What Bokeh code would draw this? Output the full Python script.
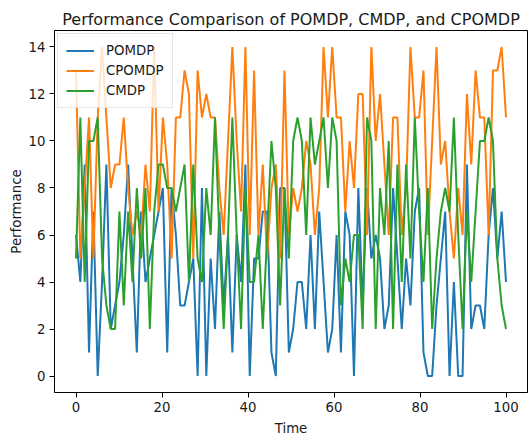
from bokeh.plotting import figure
from bokeh.models import Range1d, FixedTicker
from bokeh.embed import file_html
from bokeh.resources import INLINE
import numpy as np

# Time axis: 100 evenly spaced samples between 0 and 100
time = np.linspace(0, 100, 100)

pomdp = [6, 4, 9, 1, 7, 0, 4, 9, 2, 3,
         4, 6, 9, 5, 1, 7, 4, 5, 6, 7,
         8, 1, 8, 6, 3, 3, 4, 5, 0, 8,
         0, 5, 2, 7, 3, 6, 1, 6, 4, 9,
         0, 5, 5, 7, 7, 1, 0, 8, 8, 1,
         2, 4, 4, 2, 6, 2, 7, 4, 1, 2,
         6, 1, 7, 6, 0, 8, 3, 8, 5, 6,
         5, 2, 3, 8, 5, 2, 5, 3, 7, 8,
         1, 0, 0, 3, 5, 7, 0, 4, 0, 0,
         9, 2, 3, 3, 2, 6, 8, 5, 7, 4]

cpomdp = [13, 5, 8, 11, 5, 11, 14, 11, 8, 9,
          9, 11, 8, 6, 7, 6, 9, 7, 14, 7,
          11, 9, 5, 11, 11, 13, 12, 5, 13, 11,
          12, 11, 11, 8, 6, 10, 14, 10, 7, 14,
          6, 13, 6, 9, 5, 8, 9, 5, 13, 6,
          8, 7, 8, 10, 9, 6, 8, 14, 11, 14,
          11, 11, 7, 10, 8, 12, 12, 6, 14, 10,
          12, 9, 6, 11, 11, 6, 8, 14, 11, 11,
          13, 6, 10, 14, 9, 10, 7, 5, 8, 6,
          12, 9, 13, 11, 11, 6, 13, 13, 14, 11]

cmdp = [5, 11, 4, 10, 10, 11, 5, 3, 2, 2,
        7, 3, 7, 4, 8, 5, 8, 2, 7, 9,
        9, 8, 8, 7, 8, 9, 4, 9, 5, 4,
        8, 6, 11, 6, 2, 6, 11, 6, 2, 8,
        4, 4, 6, 2, 6, 10, 8, 3, 8, 5,
        10, 11, 10, 6, 11, 9, 10, 11, 8, 11,
        10, 3, 5, 4, 6, 6, 2, 11, 10, 2,
        8, 6, 10, 2, 9, 4, 9, 5, 11, 7,
        4, 8, 2, 5, 7, 8, 7, 11, 6, 2,
        7, 4, 7, 10, 10, 11, 10, 5, 3, 2]

x_ticks = [0, 20, 40, 60, 80, 100]
y_ticks = [0, 2, 4, 6, 8, 10, 12, 14]

FONT = "DejaVu Sans"
TEXT = "#1a1a1a"

p = figure(frame_width=473, frame_height=362, output_backend="svg",
           toolbar_location=None,
           x_range=Range1d(-5, 105), y_range=Range1d(-0.7, 14.7),
           title="Performance Comparison of POMDP, CMDP, and CPOMDP",
           min_border_left=54, min_border_right=1, min_border_top=30,
           min_border_bottom=0)

p.line(time, pomdp, line_color="#1f77b4", line_width=2, legend_label="POMDP")
p.line(time, cpomdp, line_color="#ff7f0e", line_width=2, legend_label="CPOMDP")
p.line(time, cmdp, line_color="#2ca02c", line_width=2, legend_label="CMDP")

p.xgrid.visible = False
p.ygrid.visible = False
p.outline_line_color = "black"
p.outline_line_alpha = 1
p.outline_line_width = 1
p.background_fill_color = "white"
p.border_fill_color = "white"

p.title.text_font = FONT
p.title.text_font_size = "16px"
p.title.text_font_style = "normal"
p.title.text_color = TEXT
p.title.align = "center"
p.title.standoff = 3

p.xaxis.ticker = FixedTicker(ticks=x_ticks)
p.yaxis.ticker = FixedTicker(ticks=y_ticks)
p.xaxis.axis_label = "Time"
p.yaxis.axis_label = "Performance"
for ax in (p.xaxis[0], p.yaxis[0]):
    ax.axis_line_color = "black"
    ax.major_tick_line_color = "black"
    ax.major_tick_out = 5
    ax.major_tick_in = 0
    ax.minor_tick_line_color = None
    ax.major_label_text_font = FONT
    ax.major_label_text_font_size = "13.3px"
    ax.major_label_text_color = TEXT
    ax.axis_label_text_font = FONT
    ax.axis_label_text_font_size = "13.3px"
    ax.axis_label_text_font_style = "normal"
    ax.axis_label_text_color = TEXT
p.xaxis.major_label_standoff = 4
p.xaxis.axis_label_standoff = 6
p.yaxis.major_label_standoff = 4
p.yaxis.axis_label_standoff = 2

p.legend.location = "top_left"
p.legend.margin = 3
p.legend.padding = 8
p.legend.spacing = 3
p.legend.glyph_width = 28
p.legend.glyph_height = 17
p.legend.label_height = 17
p.legend.label_standoff = 12
p.legend.label_text_font = FONT
p.legend.label_text_font_size = "13.3px"
p.legend.label_text_color = TEXT
p.legend.border_line_color = "#cccccc"
p.legend.border_line_width = 1
p.legend.background_fill_alpha = 0.8

open("out.html", "w").write(file_html(p, INLINE))
